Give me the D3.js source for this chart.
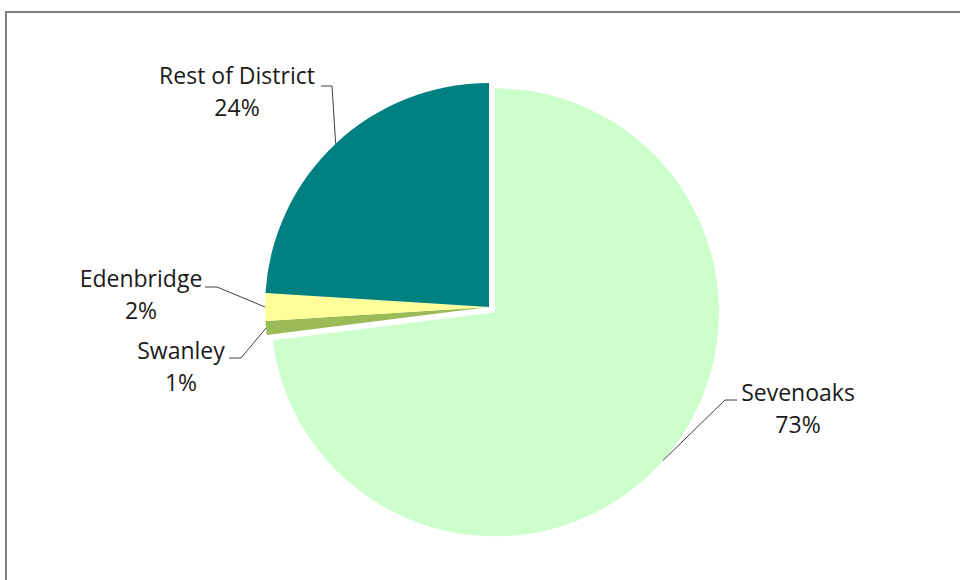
<!DOCTYPE html>
<html>
<head>
<meta charset="utf-8">
<script src="https://cdn.jsdelivr.net/npm/d3@7"></script>
<style>
  body { margin: 0; background: #fff; }
  svg text { font-family: "Open Sans", "Noto Sans", sans-serif; fill: #1a1a1a; }
</style>
</head>
<body>
<svg id="chart" width="960" height="580"></svg>
<script>
// data
const areas = ['Sevenoaks', 'Swanley', 'Edenbridge', 'Rest of District'];
const shares = [73, 1, 2, 24];
const colours = ['#ccffcc', '#9bbb59', '#ffff99', '#008080'];

// where each label sits and where its leader elbow goes
const labelLayout = {
  'Sevenoaks':        { x: 798, y: 401, elbow: [737, 725], ly: 400 },
  'Swanley':          { x: 181, y: 359, elbow: [229, 241], ly: 358 },
  'Edenbridge':       { x: 141, y: 287, elbow: [205, 217], ly: 287 },
  'Rest of District': { x: 237, y: 84,  elbow: [321, 332], ly: 86 }
};

const width = 960, height = 580;
const cx = 489, cy = 307, radius = 224, explode = 8;

const svg = d3.select('#chart');

// chart frame
svg.append('rect')
  .attr('x', 6).attr('y', 12)
  .attr('width', width + 20).attr('height', height + 20)
  .attr('fill', 'none')
  .attr('stroke', '#7f7f7f')
  .attr('stroke-width', 2);

const data = areas.map((a, i) => ({ name: a, value: shares[i], colour: colours[i] }));

const pie = d3.pie().value(d => d.value).sort(null);
const arcs = pie(data);

const arc = d3.arc().innerRadius(0).outerRadius(radius);

const g = svg.append('g').attr('transform', `translate(${cx},${cy})`);

function offset(d) {
  if (d.data.name !== 'Sevenoaks') return [0, 0];
  const a = (d.startAngle + d.endAngle) / 2;
  return [Math.sin(a) * explode, -Math.cos(a) * explode];
}

g.selectAll('path.slice')
  .data(arcs)
  .enter().append('path')
  .attr('class', 'slice')
  .attr('d', arc)
  .attr('fill', d => d.data.colour)
  .attr('transform', d => `translate(${offset(d)})`);

// leader lines + labels
arcs.forEach(d => {
  const L = labelLayout[d.data.name];
  const a = (d.startAngle + d.endAngle) / 2;
  const o = offset(d);
  const px = cx + o[0] + Math.sin(a) * radius;
  const py = cy + o[1] - Math.cos(a) * radius;
  svg.append('polyline')
    .attr('points', [[L.elbow[0], L.ly], [L.elbow[1], L.ly], [px, py]].map(p => p.join(',')).join(' '))
    .attr('fill', 'none')
    .attr('stroke', '#404040')
    .attr('stroke-width', 1);

  const t = svg.append('text')
    .attr('text-anchor', 'middle')
    .attr('font-size', 23);
  t.append('tspan').attr('x', L.x).attr('y', L.y).text(d.data.name);
  t.append('tspan').attr('x', L.x).attr('y', L.y + 32).text(d.data.value + '%');
});
</script>
</body>
</html>
